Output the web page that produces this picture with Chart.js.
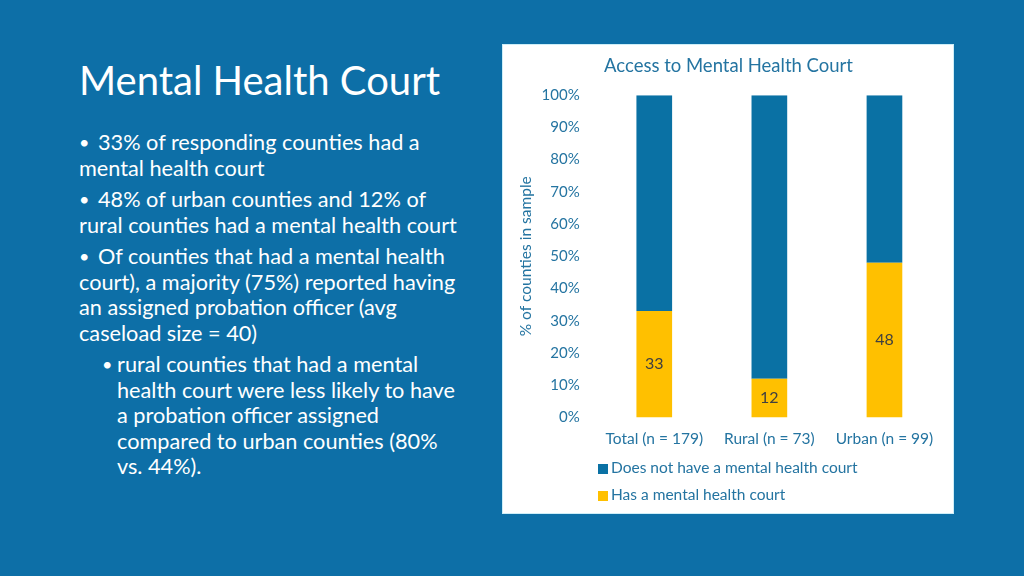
<!DOCTYPE html>
<html lang="en">
<head>
<meta charset="UTF-8">
<title>Mental Health Court</title>
<script src="https://cdn.jsdelivr.net/npm/chart.js"></script>
<style>
    body {
        margin: 0;
        width: 1024px;
        height: 576px;
        background: #0d6fa7;
        font-family: Lato, "Open Sans", sans-serif;
        color: #fff;
        position: relative;
        overflow: hidden;
    }
    h1 {
        position: absolute;
        left: 79px;
        top: 56px;
        margin: 0;
        font-weight: normal;
        font-size: 40px;
        line-height: 48px;
    }
    .bullets {
        position: absolute;
        left: 79px;
        top: 130px;
        font-size: 21.7px;
        line-height: 25.5px;
        white-space: nowrap;
    }
    .bullets p { margin: 0 0 6px 0; }
    .bullets p.sub { padding-left: 38px; text-indent: -15px; }
    .b { display: inline-block; width: 19px; text-indent: 0; font-size: 18px; vertical-align: 1px; }
    .sub .b { width: 15px; }
    #panel {
        position: absolute;
        left: 503px;
        top: 45px;
        width: 450px;
        height: 468px;
        background: #fff;
        box-shadow: 0 0 0 1px #cdeef8;
    }
    #legend {
        position: absolute;
        left: 95px;
        top: 413px;
        font-size: 15.5px;
        color: #2474a1;
    }
    .leg-item { height: 27px; line-height: 18px; white-space: nowrap; }
    .leg-box {
        display: inline-block;
        width: 10px;
        height: 10px;
        margin-right: 3px;
        vertical-align: -1px;
    }
</style>
</head>
<body>
    <h1>Mental Health Court</h1>
    <div class="bullets">
        <p><span class="b">•</span>33% of responding counties had a<br>mental health court</p>
        <p><span class="b">•</span>48% of urban counties and 12% of<br>rural counties had a mental health court</p>
        <p><span class="b">•</span>Of counties that had a mental health<br>court), a majority (75%) reported having<br>an assigned probation officer (avg<br>caseload size = 40)</p>
        <p class="sub"><span class="b">•</span>rural counties that had a mental<br>health court were less likely to have<br>a probation officer assigned<br>compared to urban counties (80%<br>vs. 44%).</p>
    </div>

    <div id="panel">
        <canvas id="chart" width="450" height="468"></canvas>
        <div id="legend"></div>
    </div>

<script>
    const CATEGORIES = ['Total (n = 179)', 'Rural (n = 73)', 'Urban (n = 99)']
    const HAS_COURT = [33, 12, 48]
    const NO_COURT = [67, 88, 52]
    const SERIES_NAMES = ['Does not have a mental health court', 'Has a mental health court']
    const Y_TICKS = [0, 10, 20, 30, 40, 50, 60, 70, 80, 90, 100]

    const BLUE = '#0a71a4'
    const YELLOW = '#ffc000'
    const TEXT_BLUE = '#2474a1'

    Chart.defaults.font.family = 'Lato, "Open Sans", sans-serif'

    // labels in the middle of the yellow segments
    const segmentLabels = {
        id: 'segmentLabels',
        afterDatasetsDraw(chart) {
            const ctx = chart.ctx
            const meta = chart.getDatasetMeta(0)
            ctx.save()
            ctx.font = '16px Lato, "Open Sans", sans-serif'
            ctx.fillStyle = '#404040'
            ctx.textAlign = 'center'
            ctx.textBaseline = 'middle'
            meta.data.forEach((bar, i) => {
                const p = bar.getProps(['x', 'y', 'base'], true)
                ctx.fillText(String(HAS_COURT[i]), p.x, (p.y + p.base) / 2)
            })
            ctx.restore()
        }
    }

    // html legend, stacked and left-aligned like the original
    const htmlLegend = {
        id: 'htmlLegend',
        afterUpdate(chart) {
            const order = [1, 0]
            document.getElementById('legend').innerHTML = order.map(i => {
                const ds = chart.data.datasets[i]
                return `<div class="leg-item"><span class="leg-box" style="background:${ds.backgroundColor}"></span>${ds.label}</div>`
            }).join('')
        }
    }

    new Chart(document.getElementById('chart'), {
        type: 'bar',
        data: {
            labels: CATEGORIES,
            datasets: [
                { label: SERIES_NAMES[1], data: HAS_COURT, backgroundColor: YELLOW },
                { label: SERIES_NAMES[0], data: NO_COURT, backgroundColor: BLUE }
            ]
        },
        options: {
            responsive: false,
            animation: false,
            layout: { padding: { left: 12, right: 11, top: 0, bottom: 61 } },
            datasets: { bar: { categoryPercentage: 1, barPercentage: 0.31 } },
            scales: {
                x: {
                    stacked: true,
                    grid: { display: false },
                    border: { display: false },
                    ticks: { color: TEXT_BLUE, font: { size: 15.5 }, padding: 4 }
                },
                y: {
                    stacked: true,
                    min: 0,
                    max: 100,
                    grid: { display: false },
                    border: { display: false },
                    afterBuildTicks: axis => { axis.ticks = Y_TICKS.map(v => ({ value: v })) },
                    ticks: {
                        color: TEXT_BLUE,
                        font: { size: 15 },
                        padding: 9,
                        callback: v => v + '%'
                    },
                    title: {
                        display: true,
                        text: '% of counties in sample',
                        color: TEXT_BLUE,
                        font: { size: 15.5 },
                        padding: { top: 2, bottom: -3 }
                    }
                }
            },
            plugins: {
                legend: { display: false },
                tooltip: { enabled: false },
                title: {
                    display: true,
                    text: 'Access to Mental Health Court',
                    color: TEXT_BLUE,
                    font: { size: 18.5, weight: 'normal' },
                    padding: { top: 10, bottom: 18 }
                }
            }
        },
        plugins: [segmentLabels, htmlLegend]
    })
</script>
</body>
</html>
